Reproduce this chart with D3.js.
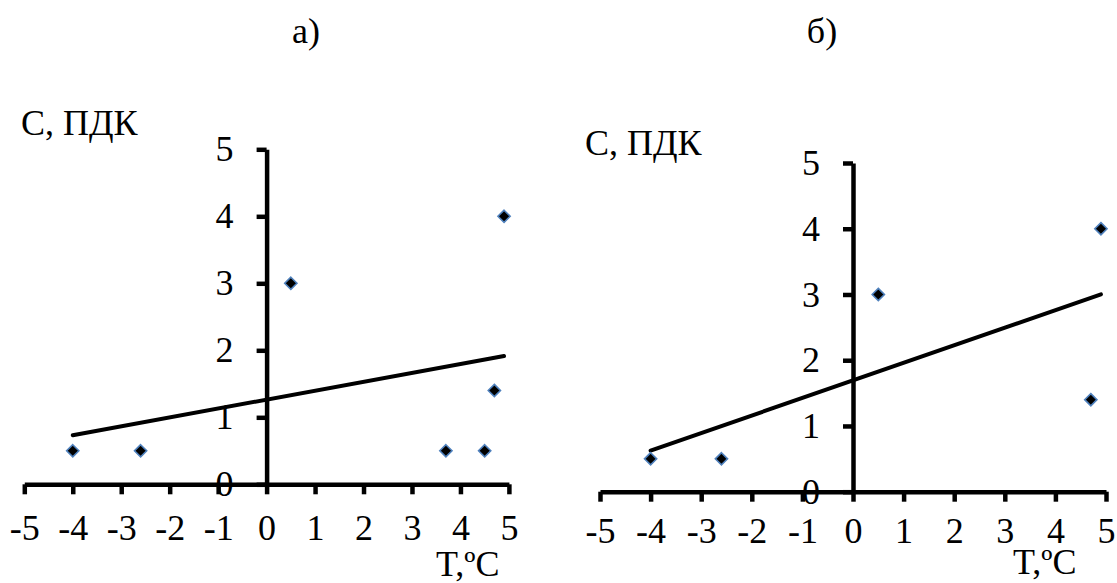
<!DOCTYPE html>
<html>
<head>
<meta charset="utf-8">
<script src="https://cdn.jsdelivr.net/npm/d3@7"></script>
<style>
  html, body { margin: 0; padding: 0; background: #fff; }
  svg { display: block; }
</style>
</head>
<body>
<svg id="chart" width="1117" height="583"></svg>
<script>
(function () {
  'use strict';

  /* Data: temperature vs concentration (in MPC units) */
  var panelTitles = ['а)', 'б)'];
  var tempA = [-4, -2.6, 0.5, 3.7, 4.5, 4.7, 4.9];
  var concA = [0.5, 0.5, 3, 0.5, 0.5, 1.4, 4];
  var tempB = [-4, -2.6, 0.5, 4.7, 4.9];
  var concB = [0.5, 0.5, 3, 1.4, 4];
  var xTicks = [-5, -4, -3, -2, -1, 0, 1, 2, 3, 4, 5];
  var yTicks = [0, 1, 2, 3, 4, 5];
  var yTitle = 'С, ПДК';
  var xTitle = 'T,ºC';

  var FONT = '36px';
  var FAMILY = '"Liberation Serif", "Times New Roman", serif';
  var svg = d3.select('#chart');

  function styleText(sel) {
    return sel.style('font-family', FAMILY).style('font-size', FONT).attr('fill', '#000');
  }

  /* least squares trend line, like the spreadsheet trendline */
  function fitLine(xs, ys) {
    var mx = d3.mean(xs), my = d3.mean(ys);
    var sxy = d3.sum(xs, function (v, i) { return (v - mx) * (ys[i] - my); });
    var sxx = d3.sum(xs, function (v) { return (v - mx) * (v - mx); });
    var k = sxy / sxx;
    return { k: k, b: my - k * mx };
  }

  function drawPanel(cfg) {
    var x = d3.scaleLinear().domain([-5, 5]).range(cfg.xr);
    var y = d3.scaleLinear().domain([0, 5]).range(cfg.yr);
    var g = svg.append('g');

    // title
    styleText(g.append('text')
      .attr('x', cfg.titleX).attr('y', 43)
      .attr('text-anchor', 'middle')
      .text(cfg.title));

    // y label
    styleText(g.append('text')
      .attr('x', cfg.yLabel[0]).attr('y', cfg.yLabel[1])
      .text(yTitle));

    // x label
    styleText(g.append('text')
      .attr('x', cfg.xLabel[0]).attr('y', cfg.xLabel[1])
      .text(xTitle));

    // axes crossing at zero (plain hyphen for negatives, as in the source)
    var xAxis = d3.axisBottom(x).tickValues(xTicks).tickSize(10).tickSizeOuter(0).tickPadding(cfg.xPad)
      .tickFormat(String);
    var yAxis = d3.axisLeft(y).tickValues(yTicks).tickSize(10).tickSizeOuter(0).tickPadding(23)
      .tickFormat(String);

    [g.append('g').attr('transform', 'translate(0,' + y(0) + ')').call(xAxis),
     g.append('g').attr('transform', 'translate(' + x(0) + ',0)').call(yAxis)].forEach(function (ax) {
      ax.attr('font-size', null).attr('font-family', null);
      ax.select('.domain').attr('stroke', '#000').attr('stroke-width', 4.5);
      ax.selectAll('.tick line').attr('stroke', '#000').attr('stroke-width', 4.5);
      styleText(ax.selectAll('.tick text'));
    });

    // trend line
    var fit = fitLine(cfg.xs, cfg.ys);
    var x0 = d3.min(cfg.xs), x1 = d3.max(cfg.xs);
    g.append('line')
      .attr('x1', x(x0)).attr('y1', y(fit.k * x0 + fit.b))
      .attr('x2', x(x1)).attr('y2', y(fit.k * x1 + fit.b))
      .attr('stroke', '#000').attr('stroke-width', 4).attr('stroke-linecap', 'round');

    // points
    var sym = d3.symbol().type(d3.symbolDiamond2).size(95);
    g.selectAll('.pt')
      .data(cfg.xs.map(function (v, i) { return [v, cfg.ys[i]]; }))
      .join('path')
      .attr('class', 'pt')
      .attr('d', sym)
      .attr('transform', function (d) { return 'translate(' + x(d[0]) + ',' + y(d[1]) + ')'; })
      .attr('fill', '#000')
      .attr('stroke', '#4f81bd')
      .attr('stroke-width', 1.6);
  }

  drawPanel({
    title: panelTitles[0], titleX: 306,
    xs: tempA, ys: concA,
    xr: [24.3, 508.9], yr: [484.3, 149.3], xPad: 20,
    yLabel: [21, 135], xLabel: [436, 576]
  });

  drawPanel({
    title: panelTitles[1], titleX: 822,
    xs: tempB, ys: concB,
    xr: [600, 1106], yr: [491.7, 163], xPad: 16,
    yLabel: [585, 155], xLabel: [1013, 574]
  });
})();
</script>
</body>
</html>
